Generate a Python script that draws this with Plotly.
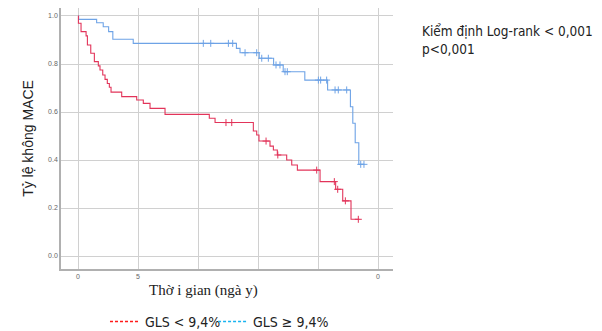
import plotly.graph_objects as go

# ---- data ----
# GLS >= 9,4% (blue): event times and survival after each event
blue_t = [0, 0.05, 1.55, 2.1, 2.55, 2.9, 4.6, 13.2, 13.5, 15.1, 16.3, 17.1, 18.9, 20.8, 22.7, 22.9, 23.1, 23.4, 23.85]
blue_s = [1.0, 0.986, 0.972, 0.955, 0.935, 0.903, 0.886, 0.865, 0.847, 0.824, 0.796, 0.768, 0.733, 0.692, 0.622, 0.553, 0.472, 0.382, 0.382]
blue_cens_t = [10.44, 11.06, 12.53, 12.89, 13.92, 14.89, 15.31, 15.86, 16.5, 16.83, 17.25, 17.44, 20.03, 20.22, 20.72, 21.42, 21.69, 22.39, 23.56, 23.83]

# GLS < 9,4% (red)
red_t = [0, 0.03, 0.25, 0.67, 0.78, 1.06, 1.36, 1.69, 1.83, 2.06, 2.25, 2.44, 2.61, 2.75, 3.64, 4.89, 5.44, 6.0, 7.25,
         10.94, 11.42, 14.61, 14.89, 15.08, 16.0, 16.28, 16.61, 17.39, 17.81, 18.28, 20.17, 21.47, 22.06, 22.75, 23.44]
red_s = [1.0, 0.970, 0.935, 0.917, 0.879, 0.845, 0.81, 0.792, 0.775, 0.754, 0.736, 0.719, 0.703, 0.683, 0.664, 0.65, 0.636, 0.615, 0.59,
         0.574, 0.556, 0.521, 0.504, 0.479, 0.458, 0.442, 0.421, 0.40, 0.379, 0.358, 0.31, 0.278, 0.23, 0.153, 0.153]
red_cens_t = [12.33, 12.81, 15.67, 16.65, 19.89, 21.36, 21.64, 22.28, 23.36]

x_tickvals = [0, 5, 10, 15, 20, 25]
x_ticktext = ["0", "5", "", "", "", "0"]
y_tickvals = [0.0, 0.2, 0.4, 0.6, 0.8, 1.0]
y_ticktext = ["0.0", "0.2", "0.4", "0.6", "0.8", "1.0"]

legend_names = ["GLS < 9,4%", "GLS ≥ 9,4%"]
x_title = "Thờ i gian (ngà y)"
y_title = "Tỷ lệ không MACE"
note_text = "Kiểm định Log-rank < 0,001<br>p<0,001"

RED = "#e2345a"
BLUE = "#6ea3e6"


def surv_at(ts, ss, t):
    v = ss[0]
    for ti, si in zip(ts, ss):
        if ti <= t:
            v = si
    return v


fig = go.Figure()
fig.add_trace(go.Scatter(x=blue_t, y=blue_s, mode="lines", line=dict(shape="hv", color=BLUE, width=1.1),
                         showlegend=False, hoverinfo="skip"))
fig.add_trace(go.Scatter(x=blue_cens_t, y=[surv_at(blue_t, blue_s, t) for t in blue_cens_t], mode="markers",
                         marker=dict(symbol="cross-thin", size=5, line=dict(color=BLUE, width=1)),
                         showlegend=False, hoverinfo="skip"))
fig.add_trace(go.Scatter(x=red_t, y=red_s, mode="lines", line=dict(shape="hv", color=RED, width=1.1),
                         showlegend=False, hoverinfo="skip"))
fig.add_trace(go.Scatter(x=red_cens_t, y=[surv_at(red_t, red_s, t) for t in red_cens_t], mode="markers",
                         marker=dict(symbol="cross-thin", size=5, line=dict(color=RED, width=1)),
                         showlegend=False, hoverinfo="skip"))

# legend entries (dashed samples), one per legend box
fig.add_trace(go.Scatter(x=[None], y=[None], mode="lines", name=legend_names[0], legend="legend",
                         line=dict(color="#ff1a1a", width=1.5, dash="3px,2px")))
fig.add_trace(go.Scatter(x=[None], y=[None], mode="lines", name=legend_names[1], legend="legend2",
                         line=dict(color="#19b4f0", width=1.5, dash="3px,2px")))

legend_style = dict(orientation="h", xanchor="left", y=-0.203, yanchor="middle",
                    font=dict(family="DejaVu Sans Condensed, DejaVu Sans", size=14, color="#222"),
                    itemwidth=30, bgcolor="rgba(0,0,0,0)")

fig.update_layout(
    width=594, height=323,
    margin=dict(l=53, r=209, t=0, b=62, autoexpand=False),
    plot_bgcolor="white", paper_bgcolor="white",
    showlegend=True,
    legend=dict(x=0.1325, **legend_style),
    legend2=dict(x=0.458, **legend_style),
    annotations=[
        dict(text=note_text, xref="paper", yref="paper",
             x=1.081, y=0.877, xanchor="left", yanchor="middle", align="left", showarrow=False,
             font=dict(family="DejaVu Sans Condensed, DejaVu Sans", size=13.5, color="#222")),
        dict(text=x_title, xref="paper", yref="paper", x=0.428, y=-0.0805,
             xanchor="center", yanchor="middle", showarrow=False,
             font=dict(family="Liberation Serif", size=15, color="#222")),
    ],
)
fig.update_xaxes(range=[-1.42, 26.25], tickvals=x_tickvals, ticktext=x_ticktext, automargin=False,
                 showgrid=True, gridcolor="#d0d0d0", gridwidth=1, zeroline=False,
                 showline=True, linecolor="#b0b0b0", linewidth=1.5, ticks="",
                 tickfont=dict(family="Liberation Sans", size=7, color="#666"))
fig.update_yaxes(range=[-0.054, 1.0333], tickvals=y_tickvals, ticktext=y_ticktext, automargin=False,
                 showgrid=True, gridcolor="#d0d0d0", gridwidth=1, zeroline=False,
                 showline=True, linecolor="#b0b0b0", linewidth=1.5, ticks="",
                 tickfont=dict(family="Liberation Sans", size=7, color="#666"),
                 title=dict(text=y_title, standoff=11,
                            font=dict(family="Liberation Sans", size=14, color="#222")))

fig.write_html("out.html")
